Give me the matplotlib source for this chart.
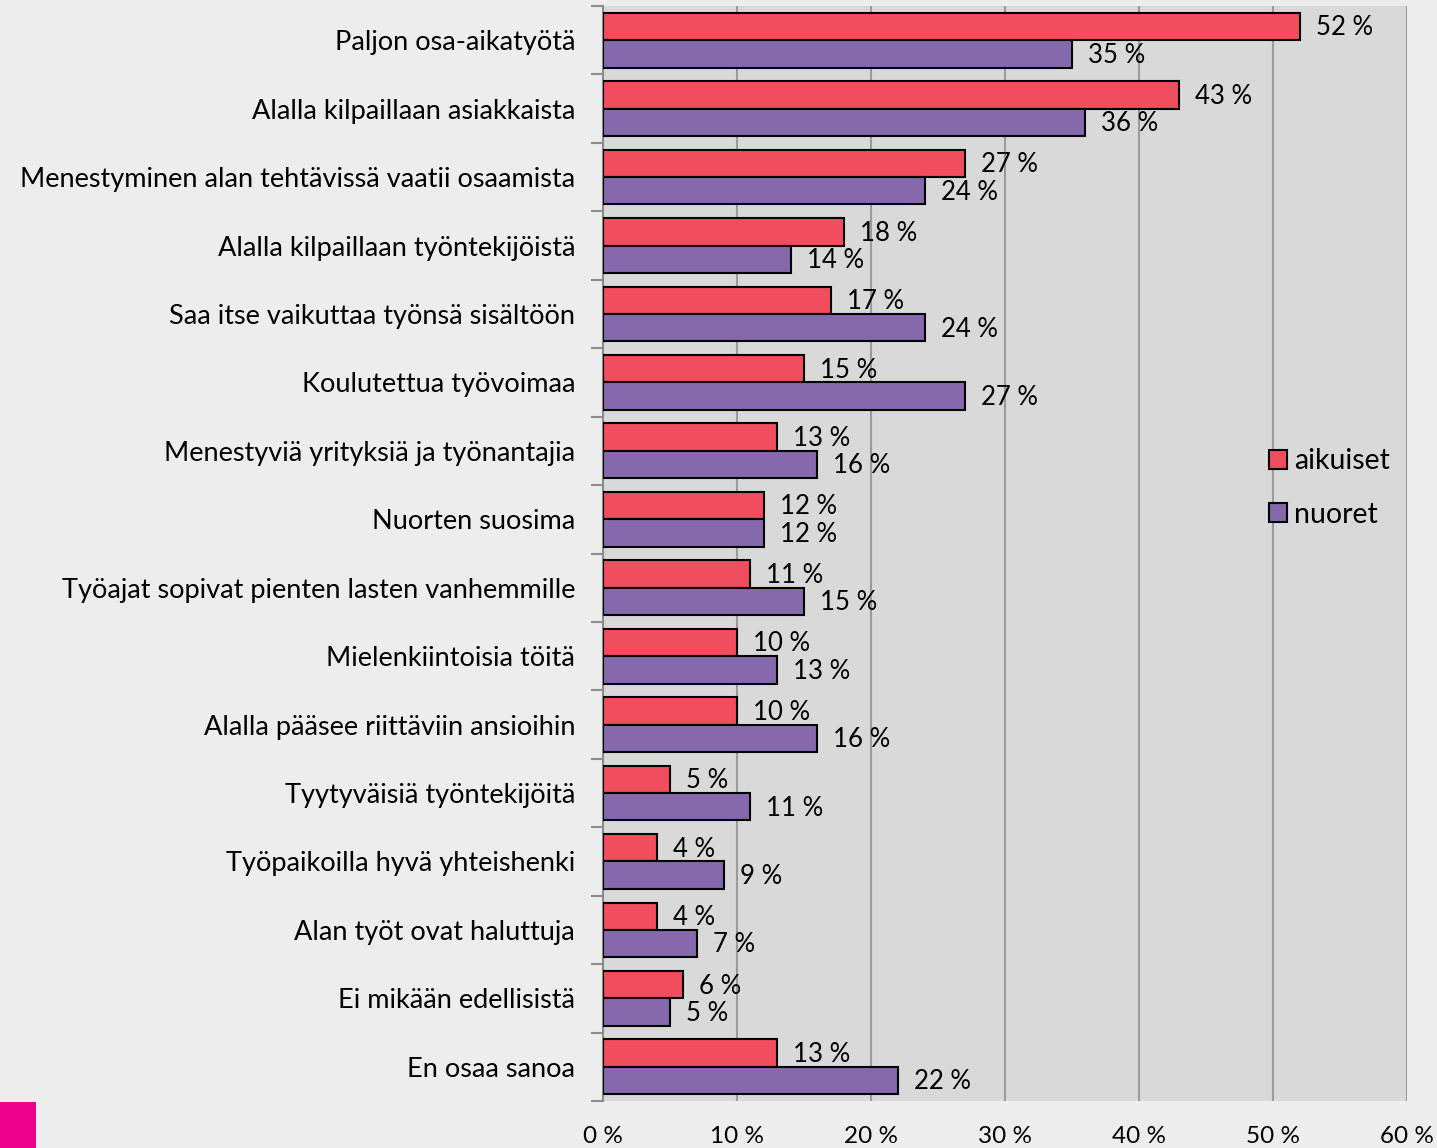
import matplotlib
matplotlib.use("Agg")
import matplotlib.pyplot as plt
import numpy as np
from matplotlib.patches import Patch

categories = [
    "Paljon osa-aikatyötä",
    "Alalla kilpaillaan asiakkaista",
    "Menestyminen alan tehtävissä vaatii osaamista",
    "Alalla kilpaillaan työntekijöistä",
    "Saa itse vaikuttaa työnsä sisältöön",
    "Koulutettua työvoimaa",
    "Menestyviä yrityksiä ja työnantajia",
    "Nuorten suosima",
    "Työajat sopivat pienten lasten vanhemmille",
    "Mielenkiintoisia töitä",
    "Alalla pääsee riittäviin ansioihin",
    "Tyytyväisiä työntekijöitä",
    "Työpaikoilla hyvä yhteishenki",
    "Alan työt ovat haluttuja",
    "Ei mikään edellisistä",
    "En osaa sanoa",
]
aikuiset = [52, 43, 27, 18, 17, 15, 13, 12, 11, 10, 10, 5, 4, 4, 6, 13]
nuoret = [35, 36, 24, 14, 24, 27, 16, 12, 15, 13, 16, 11, 9, 7, 5, 22]
series_names = ["aikuiset", "nuoret"]
x_ticks = [0, 10, 20, 30, 40, 50, 60]

RED = "#F04E5E"
PURPLE = "#8569AC"
FONT = ["Lato", "DejaVu Sans"]

plt.rcParams["font.family"] = FONT

fig = plt.figure(figsize=(14.37, 11.48), dpi=100)
fig.patch.set_facecolor("#ededed")
ax = fig.add_axes([603 / 1437, 47 / 1148, 804 / 1437, 1095 / 1148])
ax.set_facecolor("#d9d9d9")

n = len(categories)
y = np.arange(n)
h = 0.4
ax.barh(y - h / 2, aikuiset, height=h, color=RED, edgecolor="black", linewidth=1.5, zorder=3)
ax.barh(y + h / 2, nuoret, height=h, color=PURPLE, edgecolor="black", linewidth=1.5, zorder=3)

for i in range(n):
    ax.text(aikuiset[i] + 1.2, y[i] - h / 2 + 0.02, f"{aikuiset[i]} %", va="center", ha="left",
            fontsize=18.5, zorder=4)
    ax.text(nuoret[i] + 1.2, y[i] + h / 2 + 0.02, f"{nuoret[i]} %", va="center", ha="left",
            fontsize=18.5, zorder=4)

ax.set_xlim(0, 60)
ax.set_ylim(n - 0.5, -0.5)
ax.set_xticks(x_ticks)
ax.set_xticklabels([f"{v} %" for v in x_ticks], fontsize=17.5)
ax.tick_params(axis="x", length=0, pad=18)
ax.grid(axis="x", color="#9a9a9a", linewidth=1.5, zorder=1)

ax.set_yticks(y)
ax.set_yticklabels(categories, fontsize=19.5)
ax.set_yticks(np.arange(n + 1) - 0.5, minor=True)
ax.tick_params(axis="y", which="major", length=0, pad=20)
ax.tick_params(axis="y", which="minor", length=9, width=1.5, color="#8c8c8c")

for s in ["top", "right", "bottom"]:
    ax.spines[s].set_visible(False)
ax.spines["left"].set_color("#8c8c8c")
ax.spines["left"].set_linewidth(1.5)

handles = [Patch(facecolor=RED, edgecolor="black", linewidth=1.5),
           Patch(facecolor=PURPLE, edgecolor="black", linewidth=1.5)]
fig.legend(handles, series_names, loc="center left", bbox_to_anchor=(1243 / 1437, 1 - 488 / 1148),
           frameon=False, fontsize=20.5, handlelength=0.65, handleheight=0.65,
           handletextpad=0.25, labelspacing=0.95)

fig.patches.append(plt.Rectangle((0, 0), 36 / 1437, 46 / 1148, transform=fig.transFigure,
                                 facecolor="#EC008C", edgecolor="none"))

fig.savefig("out.png", dpi=100, facecolor=fig.get_facecolor())
